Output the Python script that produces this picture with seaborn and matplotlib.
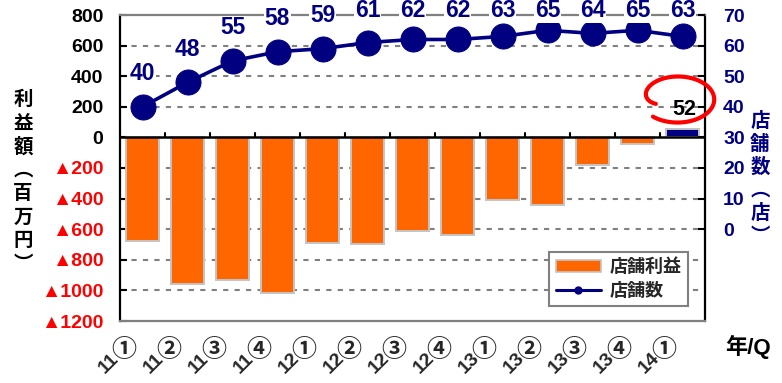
import numpy as np
import pandas as pd
import matplotlib
matplotlib.use("Agg")
import matplotlib.pyplot as plt
from matplotlib.lines import Line2D
from matplotlib.patches import Patch
from matplotlib.transforms import ScaledTranslation, IdentityTransform, blended_transform_factory
import seaborn as sns

# ---- data -------------------------------------------------------------
quarters = ["11①", "11②", "11③", "11④", "12①", "12②", "12③", "12④",
            "13①", "13②", "13③", "13④", "14①"]
store_profit = [-680, -960, -930, -1020, -690, -700, -615, -640,
                -410, -440, -180, -45, 52]          # 百万円
store_count = [40, 48, 55, 58, 59, 61, 62, 62, 63, 65, 64, 65, 63]  # 店

profit_ticks = [800, 600, 400, 200, 0, -200, -400, -600, -800, -1000, -1200]
count_ticks = [0, 10, 20, 30, 40, 50, 60, 70]

ORANGE = "#FF6600"
NAVY = "#000080"
GRAY = "#808080"

sns.set_style("white")
plt.rcParams["font.family"] = ["Liberation Sans", "Noto Sans CJK JP", "DejaVu Sans"]
plt.rcParams["font.weight"] = "bold"

W, H = 782, 383
fig = plt.figure(figsize=(W / 100, H / 100), dpi=100)
L, R, T, B = 120, 705, 15, 321
ax = fig.add_axes([L / W, 1 - B / H, (R - L) / W, (B - T) / H])

df = pd.DataFrame({"quarter": quarters, "profit": store_profit, "count": store_count})
bar_colors = [NAVY if v > 0 else ORANGE for v in store_profit]

# ---- bars: store profit (left axis) ---------------------------------
sns.barplot(data=df, x="quarter", y="profit", hue="quarter", palette=bar_colors,
            legend=False, saturation=1, width=0.72, edgecolor="#C4C4C4",
            linewidth=1.4, ax=ax, zorder=2)
ax.set_ylim(-1200, 800)
ax.set_yticks(profit_ticks)
ax.set_yticklabels([str(v) if v >= 0 else "▲" + str(-v) for v in profit_ticks],
                   fontsize=14, fontweight="bold")
for lab, v in zip(ax.get_yticklabels(), profit_ticks):
    lab.set_color("black" if v >= 0 else "#FF0000")
ax.tick_params(axis="y", direction="in", length=5, width=1.5, color="black", pad=12)
ax.set_xlabel("")
ax.set_ylabel("")

# dashed grid and zero line
for v in profit_ticks[1:-1]:
    if v != 0:
        ax.axhline(v, color=GRAY, lw=1.5, ls=(0, (2.5, 3)), zorder=0)
ax.axhline(0, color="black", lw=1.8, zorder=3)
for i in range(len(quarters) - 1):
    ax.plot([i + 0.5, i + 0.5], [0, 32], color="black", lw=1.5, zorder=3)

for side in ["left", "right"]:
    ax.spines[side].set_color("black")
    ax.spines[side].set_linewidth(1.6)
for side in ["top", "bottom"]:
    ax.spines[side].set_color(GRAY)
    ax.spines[side].set_linewidth(1.6)

# value label for profitable quarter
for i, v in enumerate(store_profit):
    if v > 0:
        ax.annotate(f"{v}", (i, v), xytext=(1.5, 14), textcoords="offset points",
                    ha="center", va="center", fontsize=15.5, fontweight="bold",
                    color="black", zorder=6)

# ---- line: store count (right axis) ---------------------------------
ax2 = ax.twinx()
sns.lineplot(x=np.arange(len(quarters)), y=store_count, ax=ax2, color=NAVY,
             linewidth=2.6, marker="o", markersize=18, markeredgecolor=NAVY,
             zorder=5)
ax2.set_ylim(-30, 70)
ax2.set_yticks(count_ticks)
ax2.set_yticklabels([str(v) for v in count_ticks], fontsize=14,
                    fontweight="bold", color=NAVY)
ax2.tick_params(axis="y", direction="in", length=5, width=1.5, color="black", pad=13)
ax2.set_ylabel("")
for s in ax2.spines.values():
    s.set_visible(False)
ax.set_xlim(-0.5, len(quarters) - 0.5)

# count labels above markers, kept inside the figure near the top
fig.canvas.draw()
for i, v in enumerate(store_count):
    _, my = ax2.transData.transform((i, v))
    ly = min(my + 33, H - 10.5)
    ax2.annotate(f"{v}", (i, v), xytext=(0, (ly - my) * 0.72), textcoords="offset points",
                 ha="center", va="center", fontsize=16.5, fontweight="bold",
                 color=NAVY, annotation_clip=False, zorder=6,
                 bbox=dict(fc="white", ec="none", pad=0.5))

# ---- category labels: year rotated, quarter mark upright -------------
ax.set_xticks(range(len(quarters)))
ax.set_xticklabels([])
ax.tick_params(axis="x", length=0)
xb = blended_transform_factory(ax.transData, ax.transAxes)
for i, q in enumerate(quarters):
    year, mark = q[:-1], q[-1]
    ax.text(i, 0, year, rotation=45, rotation_mode="anchor", ha="center", va="center",
            fontsize=14, fontweight="bold",
            transform=xb + ScaledTranslation(-0.335, -0.425, fig.dpi_scale_trans))
    ax.text(i, 0, mark, ha="center", va="center", fontsize=18,
            family=["Noto Sans CJK JP"], fontweight="bold",
            transform=xb + ScaledTranslation(-0.19, -0.29, fig.dpi_scale_trans))

# ---- legend ----------------------------------------------------------
handles = [Patch(facecolor=ORANGE, edgecolor="#C4C4C4", lw=1.2),
           Line2D([], [], color=NAVY, lw=2.2, marker="o", markersize=5)]
leg = ax2.legend(handles, ["店舗利益", "店舗数"], loc="lower right",
                 bbox_to_anchor=((688 - L) / (R - L), (B - 306) / (B - T)),
                 borderaxespad=0, fancybox=False, framealpha=1,
                 edgecolor=GRAY, handlelength=2.5,
                 handleheight=0.6, handletextpad=0.5, borderpad=0.35,
                 labelspacing=0.35, prop={"weight": "bold", "size": 13})
leg.get_frame().set_linewidth(1.5)
leg.set_zorder(10)

# ---- axis titles -----------------------------------------------------
fig.text(23 / W, 1 - 182 / H, "\n".join("利益額︵百万円︶"), ha="center", va="center",
         fontsize=14, fontweight="bold", color="black", linespacing=1.3,
         family=["Noto Sans CJK JP"])
fig.text(760 / W, 1 - 179 / H, "\n".join("店舗数︵店︶"), ha="center", va="center",
         fontsize=14, fontweight="bold", color=NAVY, linespacing=1.25,
         family=["Noto Sans CJK JP"])
fig.text(748 / W, 1 - 347 / H, "年/Q", ha="center", va="center",
         fontsize=16, fontweight="bold", color="black")

# ---- red highlight around the profitable quarter ---------------------
idx = [i for i, v in enumerate(store_profit) if v > 0][-1]
bx, by = ax.transData.transform((idx, store_profit[idx]))
cx, cy = bx - 5, by + 30
t = np.linspace(np.radians(198), np.radians(-132), 200)
prog = (t[0] - t) / (t[0] - t[-1])
scale = 1.05 - 0.4 * np.exp(-prog / 0.08)
xs = cx + 35 * scale * np.cos(t)
ys = cy + 22 * scale * np.sin(t)
fig.add_artist(Line2D(xs, ys, transform=IdentityTransform(), color="#FF0000",
                      lw=3, solid_capstyle="round", zorder=20))

fig.savefig("out.png", dpi=100)
